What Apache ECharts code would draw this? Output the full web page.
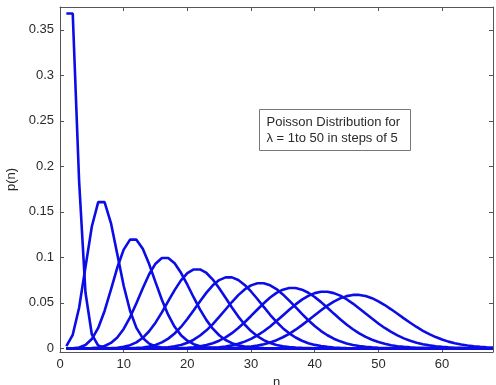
<!DOCTYPE html>
<html>
<head>
<meta charset="utf-8">
<script src="https://cdn.jsdelivr.net/npm/echarts@6/dist/echarts.min.js"></script>
<style>
  html, body { margin: 0; padding: 0; background: #fff; }
  #chart { width: 496px; height: 385px; }
</style>
</head>
<body>
<div id="chart"></div>
<script>
// p(n) for n = 0..67, plotted at x = n + 1
const LAMBDAS = [1, 6, 11, 16, 21, 26, 31, 36, 41, 46]

const P_LAM1 = [
  0.3679, 0.3679, 0.1839, 0.0613, 0.0153, 0.0031, 0.0005, 0.0001, 0, 0,
  0, 0, 0, 0, 0, 0, 0, 0, 0, 0,
  0, 0, 0, 0, 0, 0, 0, 0, 0, 0,
  0, 0, 0, 0, 0, 0, 0, 0, 0, 0,
  0, 0, 0, 0, 0, 0, 0, 0, 0, 0,
  0, 0, 0, 0, 0, 0, 0, 0, 0, 0,
  0, 0, 0, 0, 0, 0, 0, 0,
]
const P_LAM6 = [
  0.0025, 0.0149, 0.0446, 0.0892, 0.1339, 0.1606, 0.1606, 0.1377, 0.1033, 0.0688,
  0.0413, 0.0225, 0.0113, 0.0052, 0.0022, 0.0009, 0.0003, 0.0001, 0, 0,
  0, 0, 0, 0, 0, 0, 0, 0, 0, 0,
  0, 0, 0, 0, 0, 0, 0, 0, 0, 0,
  0, 0, 0, 0, 0, 0, 0, 0, 0, 0,
  0, 0, 0, 0, 0, 0, 0, 0, 0, 0,
  0, 0, 0, 0, 0, 0, 0, 0,
]
const P_LAM11 = [
  0, 0.0002, 0.0010, 0.0037, 0.0102, 0.0224, 0.0411, 0.0646, 0.0888, 0.1085,
  0.1194, 0.1194, 0.1094, 0.0926, 0.0728, 0.0534, 0.0367, 0.0237, 0.0145, 0.0084,
  0.0046, 0.0024, 0.0012, 0.0006, 0.0003, 0.0001, 0, 0, 0, 0,
  0, 0, 0, 0, 0, 0, 0, 0, 0, 0,
  0, 0, 0, 0, 0, 0, 0, 0, 0, 0,
  0, 0, 0, 0, 0, 0, 0, 0, 0, 0,
  0, 0, 0, 0, 0, 0, 0, 0,
]
const P_LAM16 = [
  0, 0, 0, 0.0001, 0.0003, 0.0010, 0.0026, 0.0060, 0.0120, 0.0213,
  0.0341, 0.0496, 0.0661, 0.0814, 0.0930, 0.0992, 0.0992, 0.0934, 0.0830, 0.0699,
  0.0559, 0.0426, 0.0310, 0.0216, 0.0144, 0.0092, 0.0057, 0.0034, 0.0019, 0.0011,
  0.0006, 0.0003, 0.0001, 0, 0, 0, 0, 0, 0, 0,
  0, 0, 0, 0, 0, 0, 0, 0, 0, 0,
  0, 0, 0, 0, 0, 0, 0, 0, 0, 0,
  0, 0, 0, 0, 0, 0, 0, 0,
]
const P_LAM21 = [
  0, 0, 0, 0, 0, 0, 0.0001, 0.0003, 0.0007, 0.0017,
  0.0035, 0.0066, 0.0116, 0.0188, 0.0282, 0.0395, 0.0518, 0.0640, 0.0747, 0.0826,
  0.0867, 0.0867, 0.0828, 0.0756, 0.0661, 0.0555, 0.0449, 0.0349, 0.0262, 0.0190,
  0.0133, 0.0090, 0.0059, 0.0038, 0.0023, 0.0014, 0.0008, 0.0005, 0.0003, 0.0001,
  0, 0, 0, 0, 0, 0, 0, 0, 0, 0,
  0, 0, 0, 0, 0, 0, 0, 0, 0, 0,
  0, 0, 0, 0, 0, 0, 0, 0,
]
const P_LAM26 = [
  0, 0, 0, 0, 0, 0, 0, 0, 0, 0.0001,
  0.0002, 0.0005, 0.0010, 0.0020, 0.0038, 0.0066, 0.0107, 0.0163, 0.0235, 0.0322,
  0.0418, 0.0518, 0.0612, 0.0692, 0.0750, 0.0780, 0.0780, 0.0751, 0.0697, 0.0625,
  0.0542, 0.0455, 0.0369, 0.0291, 0.0222, 0.0165, 0.0119, 0.0084, 0.0057, 0.0038,
  0.0025, 0.0016, 0.0010, 0.0006, 0.0003, 0.0002, 0.0001, 0, 0, 0,
  0, 0, 0, 0, 0, 0, 0, 0, 0, 0,
  0, 0, 0, 0, 0, 0, 0, 0,
]
const P_LAM31 = [
  0, 0, 0, 0, 0, 0, 0, 0, 0, 0,
  0, 0, 0.0001, 0.0002, 0.0003, 0.0007, 0.0012, 0.0022, 0.0038, 0.0061,
  0.0095, 0.0141, 0.0198, 0.0267, 0.0345, 0.0427, 0.0509, 0.0585, 0.0647, 0.0692,
  0.0715, 0.0715, 0.0693, 0.0651, 0.0593, 0.0525, 0.0452, 0.0379, 0.0309, 0.0246,
  0.0190, 0.0144, 0.0106, 0.0077, 0.0054, 0.0037, 0.0025, 0.0016, 0.0011, 0.0007,
  0.0004, 0.0003, 0.0002, 0.0001, 0, 0, 0, 0, 0, 0,
  0, 0, 0, 0, 0, 0, 0, 0,
]
const P_LAM36 = [
  0, 0, 0, 0, 0, 0, 0, 0, 0, 0,
  0, 0, 0, 0, 0, 0, 0.0001, 0.0002, 0.0004, 0.0007,
  0.0013, 0.0022, 0.0036, 0.0056, 0.0084, 0.0121, 0.0167, 0.0223, 0.0287, 0.0356,
  0.0427, 0.0496, 0.0558, 0.0609, 0.0645, 0.0663, 0.0663, 0.0645, 0.0611, 0.0564,
  0.0508, 0.0446, 0.0382, 0.0320, 0.0262, 0.0210, 0.0164, 0.0126, 0.0094, 0.0069,
  0.0050, 0.0035, 0.0024, 0.0017, 0.0011, 0.0007, 0.0005, 0.0003, 0.0002, 0.0001,
  0, 0, 0, 0, 0, 0, 0, 0,
]
const P_LAM41 = [
  0, 0, 0, 0, 0, 0, 0, 0, 0, 0,
  0, 0, 0, 0, 0, 0, 0, 0, 0, 0,
  0.0001, 0.0002, 0.0004, 0.0008, 0.0013, 0.0021, 0.0033, 0.0050, 0.0074, 0.0104,
  0.0142, 0.0188, 0.0241, 0.0300, 0.0362, 0.0424, 0.0483, 0.0535, 0.0577, 0.0607,
  0.0622, 0.0622, 0.0607, 0.0579, 0.0540, 0.0492, 0.0438, 0.0382, 0.0327, 0.0273,
  0.0224, 0.0180, 0.0142, 0.0110, 0.0083, 0.0062, 0.0046, 0.0033, 0.0023, 0.0016,
  0.0011, 0.0007, 0.0005, 0.0003, 0.0002, 0.0001, 0, 0,
]
const P_LAM46 = [
  0, 0, 0, 0, 0, 0, 0, 0, 0, 0,
  0, 0, 0, 0, 0, 0, 0, 0, 0, 0,
  0, 0, 0, 0.0001, 0.0002, 0.0003, 0.0005, 0.0008, 0.0013, 0.0020,
  0.0030, 0.0045, 0.0065, 0.0090, 0.0122, 0.0160, 0.0205, 0.0255, 0.0308, 0.0363,
  0.0418, 0.0469, 0.0513, 0.0549, 0.0574, 0.0587, 0.0587, 0.0575, 0.0551, 0.0517,
  0.0476, 0.0429, 0.0380, 0.0330, 0.0281, 0.0235, 0.0193, 0.0156, 0.0124, 0.0097,
  0.0074, 0.0056, 0.0042, 0.0031, 0.0022, 0.0016, 0.0011, 0.0008,
]

const CURVES = [P_LAM1, P_LAM6, P_LAM11, P_LAM16, P_LAM21, P_LAM26, P_LAM31, P_LAM36, P_LAM41, P_LAM46]

const X_TICKS = [0, 10, 20, 30, 40, 50, 60]
const Y_TICKS = [0, 0.05, 0.1, 0.15, 0.2, 0.25, 0.3, 0.35]

const FONT = 'Helvetica, "Liberation Sans", Arial, sans-serif'
const AXIS_COLOR = '#555'
const TEXT_COLOR = '#2a2a2a'
const LINE_COLOR = '#0c0ce6'

const chart = echarts.init(document.getElementById('chart'), null, { renderer: 'canvas' })

const frameAxis = {
  axisLine: { show: true, onZero: false, lineStyle: { color: AXIS_COLOR, width: 1 } },
  axisTick: { show: true, inside: true, length: 4, lineStyle: { color: AXIS_COLOR } },
  splitLine: { show: false },
}

const xBase = { type: 'value', min: 0, max: 68 }
const yBase = { type: 'value', min: -0.004, max: 0.375 }

const series = CURVES.map((vals, k) => ({
  name: 'lambda ' + LAMBDAS[k],
  type: 'line',
  xAxisIndex: 0,
  yAxisIndex: 0,
  showSymbol: false,
  symbol: 'none',
  smooth: false,
  lineStyle: { color: LINE_COLOR, width: 2.6 },
  data: vals.map((p, i) => [i + 1, p]),
}))

chart.setOption({
  animation: false,
  textStyle: { fontFamily: FONT },
  grid: { left: 60, right: 3, top: 7, bottom: 33, containLabel: false, outerBoundsMode: 'none' },
  xAxis: [
    {
      ...xBase, ...frameAxis,
      position: 'bottom',
      name: 'n',
      nameLocation: 'middle',
      nameGap: 22,
      nameTextStyle: { color: TEXT_COLOR, fontSize: 13, fontFamily: FONT },
      axisTick: { ...frameAxis.axisTick, customValues: X_TICKS },
      axisLabel: { color: TEXT_COLOR, fontSize: 13, margin: 6, fontFamily: FONT, customValues: X_TICKS },
    },
    {
      ...xBase, ...frameAxis,
      position: 'top',
      axisTick: { ...frameAxis.axisTick, customValues: X_TICKS },
      axisLabel: { show: false, customValues: X_TICKS },
    },
  ],
  yAxis: [
    {
      ...yBase, ...frameAxis,
      position: 'left',
      name: 'p(n)',
      nameLocation: 'middle',
      nameGap: 36,
      nameRotate: 90,
      nameTextStyle: { color: TEXT_COLOR, fontSize: 13, fontFamily: FONT },
      axisTick: { ...frameAxis.axisTick, customValues: Y_TICKS },
      axisLabel: { color: TEXT_COLOR, fontSize: 13, margin: 6, fontFamily: FONT, customValues: Y_TICKS },
    },
    {
      ...yBase, ...frameAxis,
      position: 'right',
      axisTick: { ...frameAxis.axisTick, customValues: Y_TICKS },
      axisLabel: { show: false, customValues: Y_TICKS },
    },
  ],
  graphic: [
    {
      type: 'group',
      left: 259,
      top: 109,
      children: [
        {
          type: 'rect',
          shape: { x: 0, y: 0, width: 151, height: 41 },
          style: { fill: '#fff', stroke: '#777', lineWidth: 1 },
        },
        {
          type: 'text',
          x: 7,
          y: 5,
          style: {
            text: 'Poisson Distribution for\nλ = 1to 50 in steps of 5',
            font: '13px ' + FONT,
            fill: TEXT_COLOR,
            lineHeight: 16,
          },
        },
      ],
    },
  ],
  series,
})
</script>
</body>
</html>
